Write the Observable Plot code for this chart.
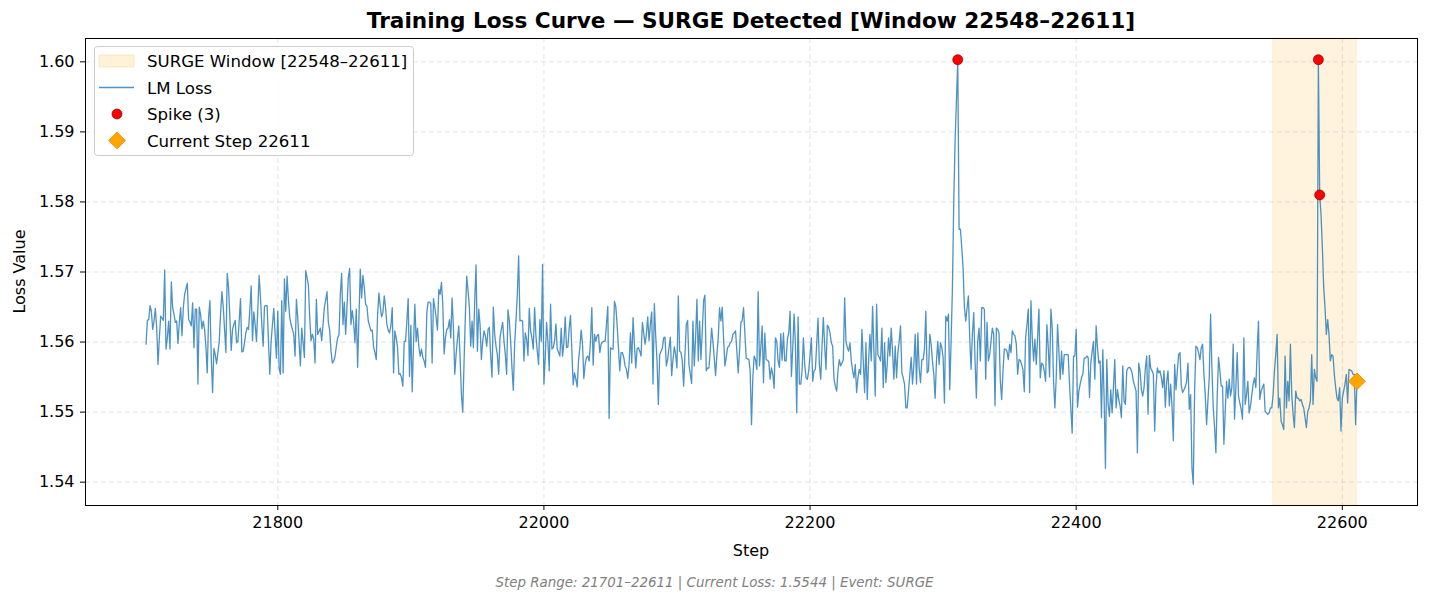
<!DOCTYPE html>
<html><head><meta charset="utf-8">
<script src="https://cdn.jsdelivr.net/npm/d3@7"></script>
<script src="https://cdn.jsdelivr.net/npm/@observablehq/plot@0.6"></script>
<style>body{margin:0;background:#fff;}</style>
</head><body><div id="chart"></div>
<script>
// ---- data ----
const startStep = 21701;
const loss = [
1.5597,1.5631,1.5632,1.5652,1.5644,1.5618,1.5630,1.5648,1.5620,1.5568,1.5606,1.5637,1.5634,1.5631,1.5703,1.5590,1.5606,1.5630,1.5590,1.5686,
1.5649,1.5640,1.5628,1.5630,1.5598,1.5628,1.5649,1.5609,1.5649,1.5668,1.5676,1.5684,1.5632,1.5629,1.5623,1.5656,1.5592,1.5647,1.5647,1.5540,
1.5650,1.5639,1.5619,1.5630,1.5618,1.5592,1.5556,1.5635,1.5659,1.5578,1.5528,1.5591,1.5582,1.5569,1.5585,1.5601,1.5640,1.5672,1.5651,1.5618,
1.5585,1.5698,1.5678,1.5635,1.5588,1.5618,1.5625,1.5631,1.5599,1.5601,1.5630,1.5662,1.5586,1.5587,1.5599,1.5613,1.5621,1.5618,1.5646,1.5680,
1.5602,1.5643,1.5625,1.5601,1.5648,1.5695,1.5663,1.5625,1.5594,1.5651,1.5652,1.5652,1.5601,1.5554,1.5601,1.5625,1.5648,1.5611,1.5577,1.5644,
1.5563,1.5554,1.5659,1.5556,1.5690,1.5644,1.5694,1.5660,1.5635,1.5625,1.5618,1.5611,1.5580,1.5661,1.5635,1.5601,1.5566,1.5620,1.5600,1.5578,
1.5702,1.5692,1.5682,1.5635,1.5602,1.5611,1.5604,1.5570,
1.5661,1.5611,1.5615,1.5620,1.5602,1.5625,1.5649,1.5660,1.5672,1.5628,1.5617,1.5587,1.5570,1.5573,1.5579,1.5594,1.5606,1.5610,1.5668,1.5698,
1.5625,1.5657,1.5611,1.5649,1.5692,1.5705,1.5625,1.5645,1.5628,1.5599,1.5647,1.5564,1.5635,1.5704,1.5663,1.5695,1.5678,1.5654,1.5651,1.5630,
1.5623,1.5616,1.5617,1.5593,1.5585,1.5575,1.5639,1.5670,1.5651,1.5636,1.5642,1.5666,1.5649,1.5625,1.5617,1.5613,1.5623,1.5649,1.5556,1.5616,
1.5606,1.5592,1.5554,1.5555,1.5549,1.5537,1.5601,1.5601,1.5630,1.5662,1.5551,1.5624,1.5529,1.5597,1.5654,1.5601,1.5620,1.5594,1.5580,1.5590,
1.5578,1.5573,1.5564,1.5642,1.5657,1.5657,1.5655,1.5570,1.5662,1.5649,1.5635,1.5617,1.5675,1.5668,1.5685,1.5654,1.5583,1.5606,1.5618,1.5620,
1.5632,1.5606,1.5663,1.5620,1.5554,1.5582,1.5604,1.5623,1.5578,1.5525,1.5500,1.5573,1.5640,1.5694,1.5673,1.5649,1.5594,1.5630,1.5592,1.5659,
1.5710,1.5587,1.5647,1.5625,1.5575,1.5601,1.5616,1.5609,1.5594,1.5618,1.5621,
1.5580,1.5550,1.5650,1.5611,1.5594,1.5582,1.5554,1.5606,1.5618,1.5628,1.5601,1.5582,1.5554,1.5646,1.5630,1.5601,1.5563,1.5531,1.5597,1.5630,
1.5668,1.5723,1.5630,1.5631,1.5630,1.5573,1.5613,1.5604,1.5581,1.5648,1.5616,1.5606,1.5590,1.5649,1.5609,1.5587,1.5568,1.5632,1.5601,1.5711,
1.5540,1.5578,1.5628,1.5601,1.5559,1.5654,1.5590,1.5592,1.5601,1.5626,1.5590,1.5585,1.5580,1.5620,1.5580,1.5599,1.5636,1.5592,1.5593,1.5620,
1.5638,1.5587,1.5539,1.5556,1.5547,1.5536,1.5573,1.5592,1.5617,1.5597,1.5548,1.5568,1.5578,1.5580,1.5573,1.5601,1.5649,1.5567,1.5611,1.5601,
1.5609,1.5611,1.5585,1.5597,1.5600,1.5601,1.5601,1.5625,1.5651,1.5491,1.5592,1.5590,1.5590,1.5658,1.5651,1.5625,1.5592,1.5559,1.5585,1.5585,
1.5578,1.5566,1.5561,1.5548,1.5568,1.5613,1.5570,1.5635,1.5597,1.5563,1.5590,1.5592,1.5587,1.5580,1.5628,1.5613,1.5597,1.5611,1.5636,1.5602,
1.5625,1.5643,1.5540,1.5655,1.5609,1.5573,1.5511,1.5582,1.5587,1.5591,1.5606,
1.5607,1.5566,1.5575,1.5592,1.5607,1.5552,1.5575,1.5593,1.5582,1.5563,1.5666,1.5587,1.5585,1.5573,1.5537,1.5582,1.5625,1.5631,1.5568,1.5554,
1.5541,1.5630,1.5566,1.5606,1.5661,1.5573,1.5630,1.5575,1.5616,1.5659,1.5667,1.5559,1.5563,1.5563,1.5587,1.5620,1.5601,1.5578,1.5552,1.5582,
1.5606,1.5649,1.5630,1.5650,1.5606,1.5566,1.5578,1.5592,1.5594,1.5599,1.5601,1.5611,1.5613,1.5616,1.5587,1.5556,1.5587,1.5628,1.5630,1.5649,
1.5613,1.5577,1.5576,1.5575,1.5559,1.5482,1.5549,1.5580,1.5575,1.5561,1.5672,1.5566,1.5592,1.5623,1.5542,1.5613,1.5575,1.5574,1.5572,1.5547,
1.5563,1.5554,1.5534,1.5606,1.5601,1.5573,1.5564,1.5612,1.5574,1.5613,1.5573,1.5573,1.5604,1.5613,1.5644,1.5551,1.5592,1.5640,1.5597,1.5499,
1.5636,1.5540,1.5540,1.5559,1.5606,1.5568,1.5549,1.5547,1.5559,1.5582,1.5606,1.5544,1.5559,1.5561,1.5597,1.5634,1.5568,1.5547,1.5594,1.5635,
1.5594,1.5561,1.5624,1.5621,1.5613,1.5599,1.5594,1.5547,1.5537,1.5530,1.5559,1.5575,
1.5566,1.5570,1.5575,1.5663,1.5601,1.5592,1.5587,1.5599,1.5573,1.5559,1.5549,1.5568,1.5528,1.5549,1.5561,1.5554,1.5618,1.5573,1.5528,1.5599,
1.5518,1.5573,1.5611,1.5573,1.5651,1.5587,1.5523,1.5654,1.5582,1.5578,1.5573,1.5620,1.5535,1.5599,1.5542,1.5568,1.5606,1.5580,1.5620,1.5587,
1.5547,1.5594,1.5549,1.5585,1.5601,1.5623,1.5556,1.5549,1.5540,1.5506,1.5506,1.5530,1.5554,1.5578,1.5540,1.5568,1.5611,1.5540,1.5613,1.5563,
1.5542,1.5575,1.5575,1.5590,1.5644,1.5556,1.5559,1.5611,1.5597,1.5573,1.5554,1.5520,1.5573,1.5601,1.5568,1.5599,1.5592,1.5578,1.5513,1.5637,
1.5630,1.5640,1.5532,1.5601,1.5678,1.5801,1.5887,1.5944,1.6003,1.5761,1.5761,1.5735,1.5706,1.5649,1.5630,1.5649,1.5666,1.5606,1.5561,1.5611,
1.5642,1.5573,1.5520,1.5601,1.5620,1.5573,1.5649,1.5649,1.5647,1.5547,1.5628,1.5573,1.5582,1.5601,1.5620,1.5611,1.5509,1.5620,1.5618,1.5613,
1.5544,1.5518,1.5559,1.5590,1.5590,1.5587,1.5575,1.5597,1.5585,1.5616,1.5611,
1.5609,1.5597,1.5554,1.5575,1.5574,1.5568,1.5561,1.5529,1.5606,1.5625,1.5647,1.5528,1.5659,1.5606,1.5573,1.5604,1.5568,1.5606,1.5647,1.5549,
1.5570,1.5568,1.5559,1.5544,1.5625,1.5592,1.5550,1.5647,1.5620,1.5544,1.5506,1.5549,1.5625,1.5587,1.5547,1.5587,1.5554,1.5582,1.5582,1.5582,
1.5582,1.5540,1.5504,1.5470,1.5580,1.5580,1.5618,1.5507,1.5530,1.5540,1.5549,1.5554,1.5577,1.5577,1.5580,1.5578,1.5521,1.5570,1.5587,1.5601,
1.5547,1.5623,1.5592,1.5570,1.5573,1.5492,1.5589,1.5520,1.5420,1.5575,1.5511,1.5494,1.5532,1.5499,1.5535,1.5575,1.5506,1.5532,1.5518,1.5509,
1.5492,1.5566,1.5516,1.5511,1.5559,1.5563,1.5564,1.5562,1.5556,1.5544,1.5537,1.5530,1.5442,1.5570,1.5559,1.5532,1.5523,1.5535,1.5563,1.5580,
1.5497,1.5581,1.5563,1.5559,1.5554,1.5473,1.5537,1.5563,1.5556,1.5559,1.5549,1.5535,1.5559,1.5507,1.5544,1.5559,1.5509,1.5540,1.5509,1.5459,
1.5568,1.5532,1.5559,1.5582,1.5585,1.5537,1.5528,1.5532,1.5536,1.5544,1.5570,1.5504,
1.5525,1.5420,1.5397,1.5530,1.5594,1.5592,1.5585,1.5575,1.5592,1.5597,1.5554,1.5525,1.5482,1.5516,1.5549,1.5640,1.5563,1.5506,1.5478,1.5442,
1.5525,1.5578,1.5559,1.5537,1.5537,1.5454,1.5501,1.5544,1.5520,1.5547,1.5523,1.5535,1.5597,1.5490,1.5535,1.5585,1.5523,1.5513,1.5504,1.5490,
1.5606,1.5511,1.5525,1.5544,1.5499,1.5509,1.5525,1.5540,1.5549,1.5535,1.5587,1.5630,1.5518,1.5530,1.5535,1.5540,1.5501,1.5499,1.5497,1.5499,
1.5506,1.5506,1.5525,1.5559,1.5582,1.5611,1.5506,1.5520,1.5487,1.5482,1.5475,1.5580,1.5506,1.5544,1.5516,1.5597,1.5525,1.5497,1.5478,1.5530,
1.5520,1.5520,1.5516,1.5518,1.5511,1.5506,1.5492,1.5478,1.5501,1.5506,1.5516,1.5582,1.5511,1.5561,1.5549,1.5544,1.6003,1.5810,1.5782,1.5735,
1.5678,1.5649,1.5611,1.5632,1.5611,1.5573,1.5582,1.5580,1.5554,1.5535,1.5520,1.5516,1.5535,1.5473,1.5520,1.5530,1.5540,1.5554,1.5513,1.5561,
1.5560,1.5559,1.5554,1.5554,1.5482,1.5544
];
const spikeSteps = [22311, 22582, 22583];
const surgeStart = 22548;
const surgeEnd = 22611;
const currentStep = 22611;
const xTicks = [21800, 22000, 22200, 22400, 22600];
const yTicks = [1.54, 1.55, 1.56, 1.57, 1.58, 1.59, 1.60];
const titleText = "Training Loss Curve \u2014 SURGE Detected [Window 22548\u201322611]";
const captionText = "Step Range: 21701\u201322611 | Current Loss: 1.5544 | Event: SURGE";
const legendLabels = ["SURGE Window [22548\u201322611]", "LM Loss", "Spike (3)", "Current Step 22611"];

// ---- derived tables ----
const data = loss.map((v, i) => ({step: startStep + i, loss: v}));
const spikes = data.filter(d => spikeSteps.includes(d.step));
const current = data.filter(d => d.step === currentStep);
const firstStep = data[0].step, lastStep = data[data.length - 1].step;
const minL = d3.min(loss), maxL = d3.max(loss);
const xPad = (lastStep - firstStep) * 0.05, yPad = (maxL - minL) * 0.05;

const W = 1429, H = 602;
const mL = 85, mR = 12, mT = 38, mB = 97;
const font = "DejaVu Sans";

const chart = Plot.plot({
  width: W, height: H,
  marginLeft: mL, marginRight: mR, marginTop: mT, marginBottom: mB,
  style: {fontFamily: font, fontSize: "16px", color: "black", background: "white"},
  x: {domain: [firstStep - xPad, lastStep + xPad]},
  y: {domain: [minL - yPad, maxL + yPad]},
  marks: [
    Plot.rect([{a: surgeStart, b: surgeEnd}], {x1: "a", x2: "b", fill: "#ffa500", fillOpacity: 0.13, stroke: "#ffa500", strokeOpacity: 0.12}),
    Plot.gridX(xTicks, {stroke: "#b0b0b0", strokeOpacity: 0.35, strokeDasharray: "5,3"}),
    Plot.gridY(yTicks, {stroke: "#b0b0b0", strokeOpacity: 0.35, strokeDasharray: "5,3"}),
    Plot.line(data, {x: "step", y: "loss", stroke: "#1f77b4", strokeOpacity: 0.8, strokeWidth: 1.3}),
    Plot.dot(spikes, {x: "step", y: "loss", r: 5, fill: "red", stroke: "#8b0000", strokeWidth: 0.7}),
    Plot.dot(current, {x: "step", y: "loss", symbol: "diamond2", r: 7.5, fill: "orange", stroke: "darkorange", strokeWidth: 1}),
    Plot.axisX({ticks: xTicks, tickFormat: d => String(d), tickSize: 5, tickPadding: 6, label: null, fontSize: 16}),
    Plot.axisY({ticks: yTicks, tickFormat: d => d.toFixed(2), tickSize: 5, tickPadding: 6, label: null, fontSize: 16}),
    Plot.frame({stroke: "black", strokeWidth: 1})
  ]
});
document.getElementById("chart").appendChild(chart);

const svg = d3.select(chart);
function addText(x, y, txt, size, opts = {}) {
  const t = svg.append("text").attr("x", x).attr("y", y)
    .style("font-family", font).style("font-size", size + "px")
    .style("text-anchor", opts.anchor || "middle")
    .style("font-weight", opts.weight || "normal")
    .style("font-style", opts.italic ? "italic" : "normal")
    .style("fill", opts.color || "black").text(txt);
  if (opts.transform) t.attr("transform", opts.transform);
  return t;
}
addText((mL + W - mR) / 2, 28, titleText, 21.6, {weight: "bold"});
addText((mL + W - mR) / 2, 556, "Step", 16);
addText(0, 0, "Loss Value", 16, {transform: `translate(25,${(mT + H - mB) / 2}) rotate(-90)`});
addText(W / 2, 587, captionText, 13.4, {italic: true, color: "#808080"});

// legend
const lg = svg.append("g");
lg.append("rect").attr("x", 94.5).attr("y", 46.5).attr("width", 319).attr("height", 109).attr("rx", 3)
  .attr("fill", "white").attr("fill-opacity", 0.85).attr("stroke", "#cccccc");
const rowY = [61, 87.5, 114, 140.5];
lg.append("rect").attr("x", 99).attr("y", rowY[0] - 6).attr("width", 35).attr("height", 12)
  .attr("fill", "#ffa500").attr("fill-opacity", 0.15).attr("stroke", "#ffa500").attr("stroke-opacity", 0.2);
lg.append("line").attr("x1", 99).attr("x2", 134).attr("y1", rowY[1]).attr("y2", rowY[1])
  .attr("stroke", "#1f77b4").attr("stroke-opacity", 0.8).attr("stroke-width", 1.5);
lg.append("circle").attr("cx", 117).attr("cy", rowY[2]).attr("r", 5).attr("fill", "red").attr("stroke", "#8b0000").attr("stroke-width", 0.7);
lg.append("path").attr("d", d3.symbol(d3.symbolDiamond2, Math.PI * 7.5 * 7.5)()).attr("transform", `translate(117,${rowY[3]})`)
  .attr("fill", "orange").attr("stroke", "darkorange");
legendLabels.forEach((t, i) => {
  addText(147, rowY[i] + 6, t, 16.6, {anchor: "start"});
});
</script>
</body></html>
